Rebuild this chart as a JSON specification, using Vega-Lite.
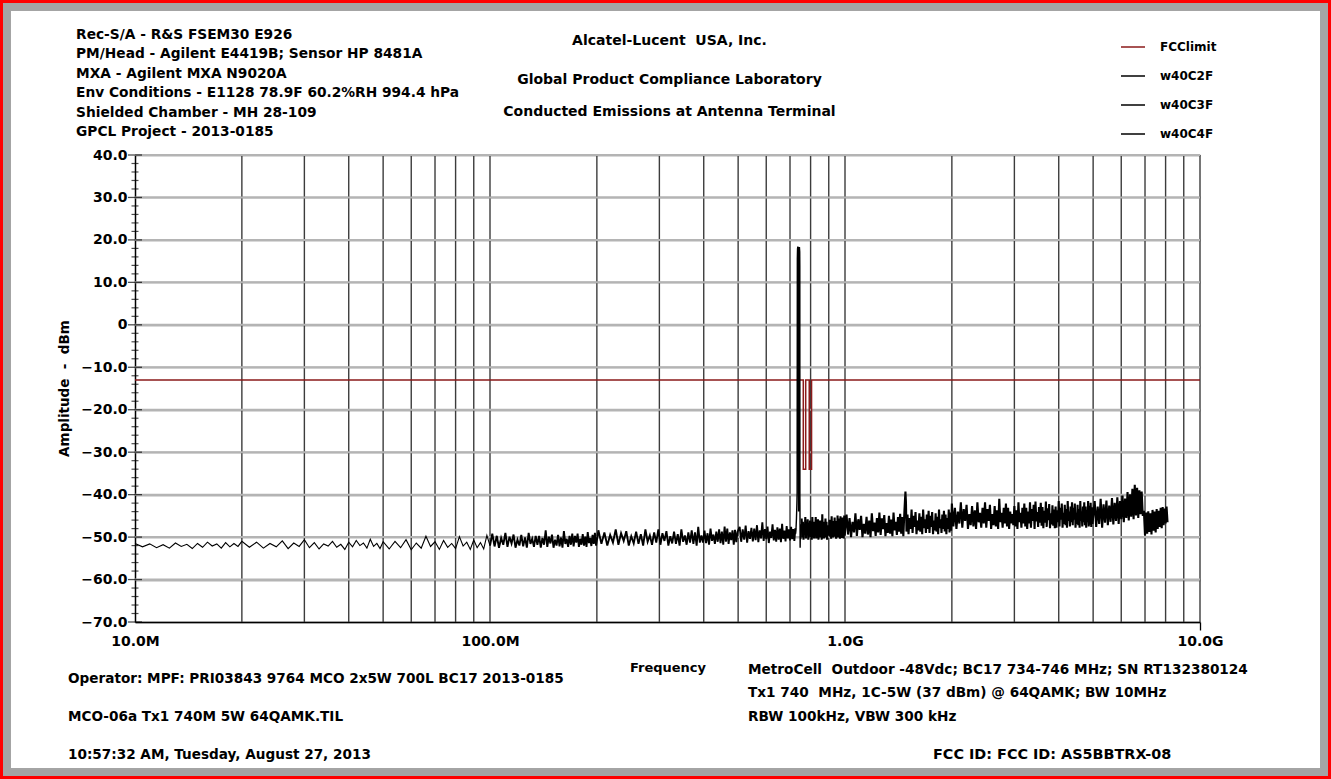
{
"$schema": "https://vega.github.io/schema/vega-lite/v6.json",
"width": 1317,
"height": 765,
"autosize": "none",
"padding": 7,
"background": "#ff0000",
"config": {"view": {"fill": "#ffffff", "stroke": "#a4a4a4", "strokeWidth": 8}, "font": "DejaVu Sans", "axis": {"labelOverlap": false}},
"datasets": {
"gridX": [{"f":20},{"f":30},{"f":40},{"f":50},{"f":60},{"f":70},{"f":80},{"f":90},{"f":100},{"f":200},{"f":300},{"f":400},{"f":500},{"f":600},{"f":700},{"f":800},{"f":900},{"f":1000},{"f":2000},{"f":3000},{"f":4000},{"f":5000},{"f":6000},{"f":7000},{"f":8000},{"f":9000},{"f":10000}],
"gridY": [{"g":-60,"f":10},{"g":-60,"f":10000},{"g":-50,"f":10},{"g":-50,"f":10000},{"g":-40,"f":10},{"g":-40,"f":10000},{"g":-30,"f":10},{"g":-30,"f":10000},{"g":-20,"f":10},{"g":-20,"f":10000},{"g":-10,"f":10},{"g":-10,"f":10000},{"g":0,"f":10},{"g":0,"f":10000},{"g":10,"f":10},{"g":10,"f":10000},{"g":20,"f":10},{"g":20,"f":10000},{"g":30,"f":10},{"g":30,"f":10000},{"g":40,"f":10},{"g":40,"f":10000}],
"yMajor": [{"a":-70},{"a":-60},{"a":-50},{"a":-40},{"a":-30},{"a":-20},{"a":-10},{"a":0},{"a":10},{"a":20},{"a":30},{"a":40}],
"yMinor": [{"a":-68},{"a":-66},{"a":-64},{"a":-62},{"a":-58},{"a":-56},{"a":-54},{"a":-52},{"a":-48},{"a":-46},{"a":-44},{"a":-42},{"a":-38},{"a":-36},{"a":-34},{"a":-32},{"a":-28},{"a":-26},{"a":-24},{"a":-22},{"a":-18},{"a":-16},{"a":-14},{"a":-12},{"a":-8},{"a":-6},{"a":-4},{"a":-2},{"a":2},{"a":4},{"a":6},{"a":8},{"a":12},{"a":14},{"a":16},{"a":18},{"a":22},{"a":24},{"a":26},{"a":28},{"a":32},{"a":34},{"a":36},{"a":38}],
"FCClimit": [{"i":1,"f":10,"a":-13},{"i":2,"f":763,"a":-13},{"i":3,"f":763,"a":-34},{"i":4,"f":775,"a":-34},{"i":5,"f":775,"a":-13},{"i":6,"f":793,"a":-13},{"i":7,"f":793,"a":-34},{"i":8,"f":805,"a":-34},{"i":9,"f":805,"a":-13},{"i":10,"f":10000,"a":-13}],
"w40C2F": [
{"f":10,"a":-51.5},{"f":10.5,"a":-52.3},{"f":11,"a":-51.6},{"f":11.5,"a":-52.5},{"f":12,"a":-51.8},{"f":12.5,"a":-52.6},{"f":13,"a":-51.4},{"f":13.5,"a":-52.2},{"f":14,"a":-51.7},{"f":14.5,"a":-52.7},{"f":15,"a":-51.5},{"f":15.5,"a":-52.4},{"f":16,"a":-51.2},{"f":16.5,"a":-52.1},{"f":17,"a":-51.6},{"f":17.5,"a":-52.6},{"f":18,"a":-51.3},{"f":18.5,"a":-52.3},{"f":19,"a":-51.5},{"f":19.5,"a":-52.2},{"f":20,"a":-51.0},
{"f":21,"a":-52.4},{"f":22,"a":-51.2},{"f":23,"a":-52.6},{"f":24,"a":-51.5},{"f":25,"a":-52.3},{"f":26,"a":-50.9},{"f":27,"a":-52.7},{"f":28,"a":-51.4},{"f":29,"a":-52.2},{"f":30,"a":-50.6},{"f":31,"a":-52.5},{"f":32,"a":-51.3},{"f":33,"a":-52.8},{"f":34,"a":-51.6},{"f":35,"a":-52.1},{"f":36,"a":-51.0},{"f":37,"a":-52.4},{"f":38,"a":-51.7},{"f":39,"a":-52.9},{"f":40,"a":-51.2},{"f":41,"a":-52.3},{"f":42,"a":-50.8},{"f":43,"a":-52.0},{"f":44,"a":-51.4},{"f":45,"a":-52.6},{"f":46,"a":-50.5},{"f":47,"a":-52.2},{"f":48,"a":-51.5},{"f":49,"a":-52.7},{"f":50,"a":-51.1},
{"f":52,"a":-52.8},{"f":54,"a":-51.0},{"f":56,"a":-52.5},{"f":58,"a":-50.6},{"f":60,"a":-53.0},{"f":62,"a":-51.4},{"f":64,"a":-52.6},{"f":66,"a":-49.8},{"f":68,"a":-52.2},{"f":70,"a":-51.1},{"f":72,"a":-52.9},{"f":74,"a":-50.8},{"f":76,"a":-52.4},{"f":78,"a":-51.5},{"f":80,"a":-52.7},{"f":82,"a":-49.9},{"f":84,"a":-52.1},{"f":86,"a":-51.2},{"f":88,"a":-52.9},{"f":90,"a":-50.7},{"f":92,"a":-52.5},{"f":94,"a":-51.3},{"f":96,"a":-52.8},{"f":98,"a":-49.6},{"f":100,"a":-52.0},
{"f":101.5,"a":-49.2},{"f":103,"a":-52.2},{"f":104.5,"a":-49.7},{"f":106,"a":-52.5},{"f":107.5,"a":-50.2},{"f":109,"a":-51.8},{"f":110.5,"a":-49.0},{"f":112,"a":-52.3},{"f":113.5,"a":-49.9},{"f":115,"a":-51.5},{"f":116.5,"a":-49.4},{"f":118,"a":-52.5},{"f":119.5,"a":-50.6},{"f":121,"a":-52.0},{"f":122.5,"a":-49.5},{"f":124,"a":-52.2},{"f":125.5,"a":-50.1},{"f":127,"a":-52.5},{"f":128.5,"a":-49.0},{"f":130,"a":-51.6},{"f":131.5,"a":-50.4},{"f":133,"a":-52.3},{"f":134.5,"a":-49.7},{"f":136,"a":-51.8},
{"f":137.5,"a":-49.7},{"f":139,"a":-52.5},{"f":140.5,"a":-50.2},{"f":142,"a":-51.8},{"f":143.5,"a":-48.4},{"f":145,"a":-52.3},{"f":146.5,"a":-49.9},{"f":148,"a":-51.5},{"f":149.5,"a":-49.4},{"f":151,"a":-52.5},{"f":152.5,"a":-50.6},{"f":154,"a":-52.0},{"f":155.5,"a":-49.5},{"f":157,"a":-52.2},{"f":158.5,"a":-50.1},{"f":160,"a":-52.5},{"f":161.5,"a":-48.6},{"f":163,"a":-51.6},{"f":164.5,"a":-50.4},{"f":166,"a":-52.3},{"f":167.5,"a":-49.7},{"f":169,"a":-51.8},{"f":170.5,"a":-49.2},{"f":172,"a":-52.2},
{"f":173.5,"a":-49.7},{"f":175,"a":-51.3},{"f":176.5,"a":-49.2},{"f":178,"a":-52.3},{"f":179.5,"a":-50.4},{"f":181,"a":-51.8},{"f":182.5,"a":-49.3},{"f":184,"a":-52.0},{"f":185.5,"a":-49.9},{"f":187,"a":-52.3},{"f":188.5,"a":-48.8},{"f":190,"a":-51.4},{"f":191.5,"a":-50.2},{"f":193,"a":-52.1},{"f":194.5,"a":-49.5},{"f":196,"a":-51.6},{"f":197.5,"a":-49.0},{"f":199,"a":-52.0},
{"f":202,"a":-48.4},{"f":206,"a":-51.6},{"f":210,"a":-48.9},{"f":214,"a":-52.0},{"f":218,"a":-49.5},{"f":222,"a":-51.3},{"f":226,"a":-48.2},{"f":230,"a":-51.8},{"f":234,"a":-49.1},{"f":238,"a":-50.9},{"f":242,"a":-48.6},{"f":246,"a":-52.0},{"f":250,"a":-49.8},{"f":254,"a":-51.5},{"f":258,"a":-48.7},{"f":262,"a":-51.6},{"f":266,"a":-49.3},{"f":270,"a":-52.0},{"f":274,"a":-48.2},{"f":278,"a":-51.1},{"f":282,"a":-49.6},{"f":286,"a":-51.8},{"f":290,"a":-48.9},{"f":294,"a":-51.3},
{"f":298,"a":-48.2},{"f":302,"a":-51.8},{"f":306,"a":-49.1},{"f":310,"a":-50.9},{"f":314,"a":-48.6},{"f":318,"a":-52.0},{"f":322,"a":-49.8},{"f":326,"a":-51.5},{"f":330,"a":-48.7},{"f":334,"a":-51.6},{"f":338,"a":-49.3},{"f":342,"a":-52.0},{"f":346,"a":-48.2},{"f":350,"a":-51.1},{"f":354,"a":-49.6},{"f":358,"a":-51.8},{"f":362,"a":-48.9},{"f":366,"a":-51.3},{"f":370,"a":-48.4},{"f":374,"a":-51.6},{"f":378,"a":-48.9},{"f":382,"a":-52.0},{"f":386,"a":-47.6},{"f":390,"a":-51.3},
{"f":394,"a":-49.6},{"f":398,"a":-51.3},{"f":402,"a":-48.5},{"f":406,"a":-51.4},{"f":410,"a":-49.1},{"f":414,"a":-51.8},{"f":418,"a":-48.0},{"f":422,"a":-50.9},{"f":426,"a":-49.4},{"f":430,"a":-51.6},{"f":434,"a":-48.7},{"f":438,"a":-51.1},{"f":442,"a":-48.2},{"f":446,"a":-51.4},{"f":450,"a":-48.7},{"f":454,"a":-51.8},{"f":458,"a":-47.5},{"f":462,"a":-51.1},{"f":466,"a":-48.0},{"f":470,"a":-51.6},{"f":474,"a":-48.9},{"f":478,"a":-50.7},{"f":482,"a":-48.4},{"f":486,"a":-51.8},{"f":490,"a":-48.3},{"f":494,"a":-51.2},{"f":498,"a":-48.8},
{"f":505,"a":-47.6},{"f":510,"a":-51.1},{"f":515,"a":-48.2},{"f":520,"a":-50.6},{"f":525,"a":-47.3},{"f":530,"a":-51.3},{"f":535,"a":-48.6},{"f":540,"a":-50.4},{"f":545,"a":-47.8},{"f":550,"a":-51.0},{"f":555,"a":-48.0},{"f":560,"a":-50.7},{"f":565,"a":-47.2},{"f":570,"a":-51.2},{"f":575,"a":-48.4},{"f":580,"a":-50.3},{"f":585,"a":-46.5},{"f":590,"a":-50.9},{"f":595,"a":-48.1},{"f":600,"a":-50.5},{"f":605,"a":-47.5},{"f":610,"a":-51.4},{"f":615,"a":-48.7},{"f":620,"a":-50.2},{"f":625,"a":-47.0},{"f":630,"a":-50.8},{"f":635,"a":-48.3},{"f":640,"a":-51.1},{"f":645,"a":-47.7},{"f":650,"a":-50.6},{"f":655,"a":-48.0},{"f":660,"a":-51.2},{"f":665,"a":-46.9},{"f":670,"a":-50.4},{"f":675,"a":-48.5},{"f":680,"a":-51.0},{"f":685,"a":-47.4},{"f":690,"a":-50.3},{"f":695,"a":-48.2},{"f":700,"a":-50.8},{"f":705,"a":-47.6},{"f":710,"a":-50.5},{"f":715,"a":-48.1},{"f":720,"a":-50.9},{"f":725,"a":-47.9}
],
"w40C3F": [
{"f":726,"a":-49.2},{"f":728,"a":-47.8},{"f":730,"a":-45.5},{"f":732,"a":-42.0},{"f":733,"a":-39.5},{"f":734,"a":15.5},{"f":735,"a":17.9},{"f":736.5,"a":18.4},{"f":738,"a":17.8},{"f":739,"a":18.1},{"f":740,"a":-44.0},{"f":741,"a":18.0},{"f":742,"a":17.6},{"f":744,"a":18.3},{"f":745.5,"a":17.2},{"f":746,"a":14.0},{"f":746.5,"a":-41.0},{"f":747.5,"a":-52.5},{"f":749,"a":-47.0},{"f":751,"a":-50.5},{"f":753,"a":-48.0}
],
"w40C4F": [
{"f":755,"a":-45.6},{"f":758,"a":-50.1},{"f":761,"a":-46.4},{"f":764,"a":-50.6},{"f":767,"a":-47.2},{"f":770,"a":-49.5},{"f":773,"a":-45.3},{"f":776,"a":-50.3},{"f":779,"a":-46.6},{"f":782,"a":-49.0},{"f":785,"a":-45.8},{"f":788,"a":-50.6},{"f":791,"a":-47.7},{"f":794,"a":-49.8},{"f":797,"a":-46.1},{"f":800,"a":-50.1},{"f":803,"a":-46.9},{"f":806,"a":-50.6},{"f":809,"a":-45.3},{"f":812,"a":-49.3},{"f":815,"a":-47.4},{"f":818,"a":-50.3},{"f":821,"a":-46.4},{"f":824,"a":-49.5},
{"f":827,"a":-45.3},{"f":830,"a":-50.3},{"f":833,"a":-46.6},{"f":836,"a":-49.0},{"f":839,"a":-45.8},{"f":842,"a":-50.6},{"f":845,"a":-47.7},{"f":848,"a":-49.8},{"f":851,"a":-46.1},{"f":854,"a":-50.1},{"f":857,"a":-46.9},{"f":860,"a":-50.6},{"f":863,"a":-44.6},{"f":866,"a":-49.3},{"f":869,"a":-47.4},{"f":872,"a":-50.3},{"f":875,"a":-46.4},{"f":878,"a":-49.5},{"f":881,"a":-45.6},{"f":884,"a":-50.1},{"f":887,"a":-46.4},{"f":890,"a":-50.6},{"f":893,"a":-47.2},{"f":896,"a":-49.5},
{"f":899,"a":-47.5},{"f":902,"a":-49.6},{"f":905,"a":-45.9},{"f":908,"a":-49.9},{"f":911,"a":-46.7},{"f":914,"a":-50.4},{"f":917,"a":-45.1},{"f":920,"a":-49.1},{"f":923,"a":-47.2},{"f":926,"a":-50.1},{"f":929,"a":-46.2},{"f":932,"a":-49.3},{"f":935,"a":-45.4},{"f":938,"a":-49.9},{"f":941,"a":-46.2},{"f":944,"a":-50.4},{"f":947,"a":-47.0},{"f":950,"a":-49.3},{"f":953,"a":-44.9},{"f":956,"a":-50.1},{"f":959,"a":-46.4},{"f":962,"a":-48.8},{"f":965,"a":-45.6},{"f":968,"a":-50.4},
{"f":971,"a":-45.1},{"f":974,"a":-49.9},{"f":977,"a":-46.3},{"f":980,"a":-50.2},{"f":983,"a":-45.4},{"f":986,"a":-49.2},{"f":989,"a":-46.8},{"f":992,"a":-50.3},{"f":995,"a":-44.9},{"f":998,"a":-49.6},
{"f":1010,"a":-44.7},{"f":1020,"a":-49.4},{"f":1030,"a":-45.5},{"f":1040,"a":-50.0},{"f":1050,"a":-46.4},{"f":1060,"a":-48.9},{"f":1070,"a":-44.4},{"f":1080,"a":-49.7},{"f":1090,"a":-45.8},{"f":1100,"a":-48.3},{"f":1110,"a":-45.0},{"f":1120,"a":-50.0},{"f":1130,"a":-46.9},{"f":1140,"a":-49.2},{"f":1150,"a":-45.2},{"f":1160,"a":-49.4},{"f":1170,"a":-46.1},{"f":1180,"a":-50.0},{"f":1190,"a":-44.4},{"f":1200,"a":-48.6},{"f":1210,"a":-46.6},{"f":1220,"a":-49.7},{"f":1230,"a":-45.5},{"f":1240,"a":-48.9},
{"f":1250,"a":-44.2},{"f":1260,"a":-49.5},{"f":1270,"a":-45.6},{"f":1280,"a":-48.1},{"f":1290,"a":-44.8},{"f":1300,"a":-49.8},{"f":1310,"a":-46.7},{"f":1320,"a":-49.0},{"f":1330,"a":-45.0},{"f":1340,"a":-49.2},{"f":1350,"a":-45.9},{"f":1360,"a":-49.8},{"f":1370,"a":-44.2},{"f":1380,"a":-48.4},{"f":1390,"a":-46.4},{"f":1400,"a":-49.5},{"f":1410,"a":-45.3},{"f":1420,"a":-48.7},{"f":1430,"a":-44.5},{"f":1440,"a":-49.2},{"f":1450,"a":-45.3},{"f":1460,"a":-49.8},{"f":1470,"a":-44.0},
{"f":1475,"a":-41.5},{"f":1480,"a":-39.3},{"f":1485,"a":-41.8},
{"f":1490,"a":-48.7},{"f":1500,"a":-44.7},{"f":1510,"a":-49.3},{"f":1520,"a":-45.5},{"f":1530,"a":-48.1},{"f":1540,"a":-43.5},{"f":1550,"a":-49.0},{"f":1560,"a":-45.0},{"f":1570,"a":-47.6},{"f":1580,"a":-44.1},{"f":1590,"a":-49.3},{"f":1600,"a":-46.1},{"f":1610,"a":-48.4},{"f":1620,"a":-44.4},{"f":1630,"a":-48.7},{"f":1640,"a":-45.2},{"f":1650,"a":-49.3},{"f":1660,"a":-43.5},{"f":1670,"a":-47.9},{"f":1680,"a":-45.8},{"f":1690,"a":-49.0},{"f":1700,"a":-44.7},{"f":1710,"a":-48.1},{"f":1720,"a":-43.8},
{"f":1730,"a":-49.0},{"f":1740,"a":-45.0},{"f":1750,"a":-47.6},{"f":1760,"a":-44.1},{"f":1770,"a":-49.3},{"f":1780,"a":-46.1},{"f":1790,"a":-48.4},{"f":1800,"a":-44.4},{"f":1810,"a":-48.7},{"f":1820,"a":-45.2},{"f":1830,"a":-49.3},{"f":1840,"a":-43.5},{"f":1850,"a":-47.9},{"f":1860,"a":-45.8},{"f":1870,"a":-49.0},{"f":1880,"a":-44.7},{"f":1890,"a":-48.1},{"f":1900,"a":-43.8},{"f":1910,"a":-48.7},{"f":1920,"a":-44.7},{"f":1930,"a":-49.3},{"f":1940,"a":-45.5},{"f":1950,"a":-48.1},{"f":1960,"a":-43.5},{"f":1970,"a":-48.9},{"f":1980,"a":-44.2},{"f":1990,"a":-48.5},
{"f":2000,"a":-42.1},{"f":2020,"a":-47.5},{"f":2040,"a":-43.1},{"f":2060,"a":-48.1},{"f":2080,"a":-44.0},{"f":2100,"a":-46.8},{"f":2120,"a":-41.8},{"f":2140,"a":-47.8},{"f":2160,"a":-43.4},{"f":2180,"a":-46.2},{"f":2200,"a":-42.4},{"f":2220,"a":-48.1},{"f":2240,"a":-44.6},{"f":2260,"a":-47.2},{"f":2280,"a":-42.7},{"f":2300,"a":-47.5},{"f":2320,"a":-43.7},{"f":2340,"a":-48.1},{"f":2360,"a":-41.8},{"f":2380,"a":-46.5},{"f":2400,"a":-44.3},{"f":2420,"a":-47.8},{"f":2440,"a":-43.1},{"f":2460,"a":-46.8},
{"f":2480,"a":-41.8},{"f":2500,"a":-47.8},{"f":2520,"a":-43.4},{"f":2540,"a":-46.2},{"f":2560,"a":-42.4},{"f":2580,"a":-48.1},{"f":2600,"a":-44.6},{"f":2620,"a":-47.2},{"f":2640,"a":-42.7},{"f":2660,"a":-47.5},{"f":2680,"a":-43.7},{"f":2700,"a":-48.1},{"f":2720,"a":-41.0},{"f":2740,"a":-46.5},{"f":2760,"a":-44.3},{"f":2780,"a":-47.8},{"f":2800,"a":-43.1},{"f":2820,"a":-46.8},{"f":2840,"a":-42.1},{"f":2860,"a":-47.5},{"f":2880,"a":-43.1},{"f":2900,"a":-48.1},{"f":2920,"a":-44.0},{"f":2940,"a":-46.8},
{"f":2960,"a":-44.6},{"f":2980,"a":-47.2},{"f":3000,"a":-42.7},{"f":3020,"a":-47.5},{"f":3040,"a":-43.7},{"f":3060,"a":-48.1},{"f":3080,"a":-41.8},{"f":3100,"a":-46.5},{"f":3120,"a":-44.3},{"f":3140,"a":-47.8},{"f":3160,"a":-43.1},{"f":3180,"a":-46.8},{"f":3200,"a":-42.1},{"f":3220,"a":-47.5},{"f":3240,"a":-43.1},{"f":3260,"a":-48.1},{"f":3280,"a":-44.0},{"f":3300,"a":-46.8},{"f":3320,"a":-41.8},{"f":3340,"a":-47.8},{"f":3360,"a":-43.4},{"f":3380,"a":-46.2},{"f":3400,"a":-42.4},{"f":3420,"a":-48.1},
{"f":3440,"a":-41.6},{"f":3460,"a":-46.3},{"f":3480,"a":-44.1},{"f":3500,"a":-47.6},{"f":3520,"a":-42.9},{"f":3540,"a":-46.6},{"f":3560,"a":-41.9},{"f":3580,"a":-47.3},{"f":3600,"a":-42.9},{"f":3620,"a":-47.9},{"f":3640,"a":-43.8},{"f":3660,"a":-46.6},{"f":3680,"a":-41.6},{"f":3700,"a":-47.6},{"f":3720,"a":-43.2},{"f":3740,"a":-46.0},{"f":3760,"a":-42.2},{"f":3780,"a":-47.9},{"f":3800,"a":-44.4},{"f":3820,"a":-47.0},{"f":3840,"a":-42.5},{"f":3860,"a":-47.3},{"f":3880,"a":-43.5},{"f":3900,"a":-47.9},
{"f":3920,"a":-42.8},{"f":3940,"a":-47.8},{"f":3960,"a":-43.7},{"f":3980,"a":-46.5},{"f":4000,"a":-41.5},{"f":4020,"a":-47.5},{"f":4040,"a":-43.1},{"f":4060,"a":-45.9},{"f":4080,"a":-42.1},{"f":4100,"a":-47.8},{"f":4120,"a":-44.3},{"f":4140,"a":-46.9},{"f":4160,"a":-42.4},{"f":4180,"a":-47.2},{"f":4200,"a":-43.4},{"f":4220,"a":-47.8},{"f":4240,"a":-41.5},{"f":4260,"a":-46.2},{"f":4280,"a":-44.0},{"f":4300,"a":-47.5},{"f":4320,"a":-42.8},{"f":4340,"a":-46.5},{"f":4360,"a":-41.8},{"f":4380,"a":-47.2},
{"f":4400,"a":-43.1},{"f":4420,"a":-45.9},{"f":4440,"a":-42.1},{"f":4460,"a":-47.8},{"f":4480,"a":-44.3},{"f":4500,"a":-46.9},{"f":4520,"a":-42.4},{"f":4540,"a":-47.2},{"f":4560,"a":-43.4},{"f":4580,"a":-47.8},{"f":4600,"a":-41.5},{"f":4620,"a":-46.2},{"f":4640,"a":-44.0},{"f":4660,"a":-47.5},{"f":4680,"a":-42.8},{"f":4700,"a":-46.5},{"f":4720,"a":-41.8},{"f":4740,"a":-47.2},{"f":4760,"a":-42.8},{"f":4780,"a":-47.8},{"f":4800,"a":-43.7},{"f":4820,"a":-46.5},{"f":4840,"a":-41.5},{"f":4860,"a":-47.5},
{"f":4880,"a":-42.6},{"f":4900,"a":-47.1},{"f":4920,"a":-41.9},{"f":4940,"a":-47.6},{"f":4960,"a":-43.0},{"f":4980,"a":-46.9},
{"f":5050,"a":-41.5},{"f":5100,"a":-47.6},{"f":5150,"a":-42.8},{"f":5200,"a":-46.9},{"f":5250,"a":-41.0},{"f":5300,"a":-47.8},{"f":5350,"a":-42.3},{"f":5400,"a":-46.6},{"f":5450,"a":-41.4},{"f":5500,"a":-47.2},{"f":5550,"a":-42.6},{"f":5600,"a":-46.4},{"f":5650,"a":-40.8},{"f":5700,"a":-47.0},{"f":5750,"a":-41.9},{"f":5800,"a":-46.2},{"f":5850,"a":-40.6},{"f":5900,"a":-46.9},{"f":5950,"a":-41.5},{"f":6000,"a":-45.8},{"f":6050,"a":-40.2},{"f":6100,"a":-46.5},{"f":6150,"a":-40.9},{"f":6200,"a":-45.5},{"f":6250,"a":-39.4},{"f":6300,"a":-46.1},{"f":6350,"a":-39.9},{"f":6400,"a":-45.2},{"f":6450,"a":-38.6},{"f":6500,"a":-45.8},{"f":6550,"a":-37.7},{"f":6600,"a":-44.9},{"f":6650,"a":-38.4},{"f":6700,"a":-45.5},{"f":6750,"a":-39.0},{"f":6800,"a":-44.6},{"f":6850,"a":-39.3},{"f":6900,"a":-45.0},{"f":6950,"a":-43.8},{"f":7000,"a":-49.6},{"f":7050,"a":-44.2},{"f":7100,"a":-49.2},{"f":7150,"a":-43.9},{"f":7200,"a":-48.8},{"f":7250,"a":-44.4},{"f":7300,"a":-49.4},{"f":7350,"a":-43.6},{"f":7400,"a":-48.5},{"f":7450,"a":-44.0},{"f":7500,"a":-48.9},{"f":7550,"a":-43.4},{"f":7600,"a":-48.1},{"f":7650,"a":-43.8},{"f":7700,"a":-47.6},{"f":7750,"a":-43.1},{"f":7800,"a":-47.9},{"f":7850,"a":-42.9},{"f":7900,"a":-47.2},{"f":7950,"a":-43.3},{"f":8000,"a":-46.8},{"f":8050,"a":-42.8},{"f":8100,"a":-46.5}
]
},
"layer": [
{"data": {"name": "gridX"}, "mark": {"type": "rule", "color": "#3c3c3c", "strokeWidth": 1.4},
 "encoding": {
  "x": {"field": "f", "type": "quantitative", "title": "Frequency", "scale": {"type": "log", "domain": [10, 10000], "range": [128, 1193], "nice": false}},
  "y": {"datum": -70, "type": "quantitative", "title": "Amplitude\u00a0 - \u00a0dBm", "scale": {"domain": [-70, 40], "range": [615, 148], "nice": false, "zero": false}},
  "y2": {"datum": 40}}},
{"data": {"name": "gridY"}, "mark": {"type": "line", "stroke": "#b4b4b4", "color": "#b4b4b4", "strokeWidth": 2, "opacity": 1},
 "encoding": {
  "x": {"field": "f", "type": "quantitative", "title": "Frequency", "scale": {"type": "log", "domain": [10, 10000], "range": [128, 1193], "nice": false}},
  "y": {"field": "g", "type": "quantitative", "title": "Amplitude\u00a0 - \u00a0dBm", "scale": {"domain": [-70, 40], "range": [615, 148], "nice": false, "zero": false}},
  "detail": {"field": "g", "type": "nominal"}}},
{"data": {"name": "yMajor"}, "mark": {"type": "tick", "orient": "horizontal", "size": 14, "thickness": 1.3, "color": "#000000"},
 "encoding": {
  "x": {"datum": 10, "type": "quantitative", "title": "Frequency", "scale": {"type": "log", "domain": [10, 10000], "range": [128, 1193], "nice": false}},
  "y": {"field": "a", "type": "quantitative", "title": "Amplitude\u00a0 - \u00a0dBm", "scale": {"domain": [-70, 40], "range": [615, 148], "nice": false, "zero": false}}}},
{"data": {"name": "yMinor"}, "mark": {"type": "tick", "orient": "horizontal", "size": 7, "thickness": 1.2, "color": "#000000"},
 "encoding": {
  "x": {"datum": 10, "type": "quantitative", "title": "Frequency", "scale": {"type": "log", "domain": [10, 10000], "range": [128, 1193], "nice": false}},
  "y": {"field": "a", "type": "quantitative", "title": "Amplitude\u00a0 - \u00a0dBm", "scale": {"domain": [-70, 40], "range": [615, 148], "nice": false, "zero": false}}}},
{"data": {"name": "FCClimit"}, "mark": {"type": "line", "strokeWidth": 1.5},
 "encoding": {
  "x": {"field": "f", "type": "quantitative", "title": "Frequency", "scale": {"type": "log", "domain": [10, 10000], "range": [128, 1193], "nice": false},
   "axis": {"title": "Frequency", "offset": -150, "values": [10, 100, 1000, 10000],
    "labelExpr": "datum.value == 10 ? '10.0M' : datum.value == 100 ? '100.0M' : datum.value == 1000 ? '1.0G' : '10.0G'",
    "labelFont": "DejaVu Sans", "labelFontWeight": "bold", "labelFontSize": 14, "labelColor": "#000000", "labelPadding": 4, "labelFlush": false, "labelOverlap": false, "labelBaseline": "top",
    "tickSize": 8, "tickColor": "#000000", "tickWidth": 1.3, "tickOpacity": {"condition": {"test": "datum.value == 10000", "value": 1}, "value": 0},
    "domainColor": "#000000", "domainWidth": 1.5, "grid": false,
    "titleFont": "DejaVu Sans", "titleFontWeight": "bold", "titleFontSize": 13, "titleColor": "#000000", "titleY": 49, "titleBaseline": "alphabetic"}},
  "y": {"field": "a", "type": "quantitative", "title": "Amplitude\u00a0 - \u00a0dBm", "scale": {"domain": [-70, 40], "range": [615, 148], "nice": false, "zero": false},
   "axis": {"title": "Amplitude\u00a0 - \u00a0dBm", "offset": -128,
    "values": [-70,-60,-50,-40,-30,-20,-10,0,10,20,30,40],
    "labelExpr": "datum.value == 0 ? '0' : format(datum.value, '.1f')",
    "labelFont": "DejaVu Sans", "labelFontWeight": "bold", "labelFontSize": 14, "labelColor": "#000000", "labelPadding": 8, "labelFlush": false, "labelOverlap": false,
    "ticks": false,
    "domainColor": "#000000", "domainWidth": 1.5,
    "grid": true, "gridColor": "#b4b4b4", "gridWidth": 2, "gridOpacity": 1,
    "titleFont": "DejaVu Sans", "titleFontWeight": "bold", "titleFontSize": 13.5, "titleColor": "#000000",
    "titleX": -71, "titleY": 381, "titleAngle": 270, "titleAlign": "center", "titleBaseline": "middle"}},
  "order": {"field": "i", "type": "quantitative"},
  "color": {"datum": "FCClimit", "type": "nominal",
   "scale": {"domain": ["FCClimit", "w40C2F", "w40C3F", "w40C4F"], "range": ["#8b1a1a", "#000000", "#000000", "#000000"]},
   "legend": {"title": null, "orient": "none", "direction": "vertical", "legendX": 1113, "legendY": 27, "symbolType": "stroke", "symbolSize": 576, "symbolStrokeWidth": 1.5, "labelFont": "DejaVu Sans", "labelFontWeight": "bold", "labelFontSize": 12, "labelColor": "#000000", "labelOffset": 14, "rowPadding": 10}}}},
{"data": {"name": "w40C2F"}, "transform": [{"filter": "datum.f <= 100"}], "mark": {"type": "line", "strokeWidth": 1.1},
 "encoding": {
  "x": {"field": "f", "type": "quantitative", "title": "Frequency", "scale": {"type": "log", "domain": [10, 10000], "range": [128, 1193], "nice": false}},
  "y": {"field": "a", "type": "quantitative", "title": "Amplitude\u00a0 - \u00a0dBm", "scale": {"domain": [-70, 40], "range": [615, 148], "nice": false, "zero": false}},
  "color": {"datum": "w40C2F", "type": "nominal"}}},
{"data": {"name": "w40C2F"}, "transform": [{"filter": "datum.f >= 100"}], "mark": {"type": "line", "strokeWidth": 1.9},
 "encoding": {
  "x": {"field": "f", "type": "quantitative", "title": "Frequency", "scale": {"type": "log", "domain": [10, 10000], "range": [128, 1193], "nice": false}},
  "y": {"field": "a", "type": "quantitative", "title": "Amplitude\u00a0 - \u00a0dBm", "scale": {"domain": [-70, 40], "range": [615, 148], "nice": false, "zero": false}},
  "color": {"datum": "w40C2F", "type": "nominal"}}},
{"data": {"name": "w40C3F"}, "mark": {"type": "line", "strokeWidth": 1.4},
 "encoding": {
  "x": {"field": "f", "type": "quantitative", "title": "Frequency", "scale": {"type": "log", "domain": [10, 10000], "range": [128, 1193], "nice": false}},
  "y": {"field": "a", "type": "quantitative", "title": "Amplitude\u00a0 - \u00a0dBm", "scale": {"domain": [-70, 40], "range": [615, 148], "nice": false, "zero": false}},
  "color": {"datum": "w40C3F", "type": "nominal"}}},
{"data": {"name": "w40C4F"}, "mark": {"type": "line", "strokeWidth": 2.1},
 "encoding": {
  "x": {"field": "f", "type": "quantitative", "title": "Frequency", "scale": {"type": "log", "domain": [10, 10000], "range": [128, 1193], "nice": false}},
  "y": {"field": "a", "type": "quantitative", "title": "Amplitude\u00a0 - \u00a0dBm", "scale": {"domain": [-70, 40], "range": [615, 148], "nice": false, "zero": false}},
  "color": {"datum": "w40C4F", "type": "nominal"}}},
{"data": {"values": [{}]},
 "mark": {"type": "text", "align": "left", "baseline": "alphabetic", "fontSize": 13.75, "fontWeight": "bold", "font": "DejaVu Sans", "color": "#000000", "lineHeight": 19.4,
  "text": ["Rec-S/A - R&S FSEM30 E926", "PM/Head - Agilent E4419B; Sensor HP 8481A", "MXA - Agilent MXA N9020A", "Env Conditions - E1128 78.9F 60.2%RH 994.4 hPa", "Shielded Chamber - MH 28-109", "GPCL Project - 2013-0185"]},
 "encoding": {"x": {"datum": 6.822, "type": "quantitative", "title": "Frequency", "scale": {"type": "log", "domain": [10, 10000], "range": [128, 1193], "nice": false}},
  "y": {"datum": 67.32, "type": "quantitative", "title": "Amplitude\u00a0 - \u00a0dBm", "scale": {"domain": [-70, 40], "range": [615, 148], "nice": false, "zero": false}}}},
{"data": {"values": [{}]},
 "mark": {"type": "text", "align": "center", "baseline": "middle", "fontSize": 14, "fontWeight": "bold", "font": "DejaVu Sans", "color": "#000000", "text": "Alcatel-Lucent\u00a0 USA, Inc."},
 "encoding": {"x": {"datum": 320.3, "type": "quantitative", "title": "Frequency", "scale": {"type": "log", "domain": [10, 10000], "range": [128, 1193], "nice": false}},
  "y": {"datum": 66.85, "type": "quantitative", "title": "Amplitude\u00a0 - \u00a0dBm", "scale": {"domain": [-70, 40], "range": [615, 148], "nice": false, "zero": false}}}},
{"data": {"values": [{}]},
 "mark": {"type": "text", "align": "center", "baseline": "middle", "fontSize": 14, "fontWeight": "bold", "font": "DejaVu Sans", "color": "#000000", "text": "Global Product Compliance Laboratory"},
 "encoding": {"x": {"datum": 320.3, "type": "quantitative", "title": "Frequency", "scale": {"type": "log", "domain": [10, 10000], "range": [128, 1193], "nice": false}},
  "y": {"datum": 57.67, "type": "quantitative", "title": "Amplitude\u00a0 - \u00a0dBm", "scale": {"domain": [-70, 40], "range": [615, 148], "nice": false, "zero": false}}}},
{"data": {"values": [{}]},
 "mark": {"type": "text", "align": "center", "baseline": "middle", "fontSize": 14, "fontWeight": "bold", "font": "DejaVu Sans", "color": "#000000", "text": "Conducted Emissions at Antenna Terminal"},
 "encoding": {"x": {"datum": 320.3, "type": "quantitative", "title": "Frequency", "scale": {"type": "log", "domain": [10, 10000], "range": [128, 1193], "nice": false}},
  "y": {"datum": 50.13, "type": "quantitative", "title": "Amplitude\u00a0 - \u00a0dBm", "scale": {"domain": [-70, 40], "range": [615, 148], "nice": false, "zero": false}}}},
{"data": {"values": [{}]},
 "mark": {"type": "text", "align": "left", "baseline": "alphabetic", "fontSize": 13.6, "fontWeight": "bold", "font": "DejaVu Sans", "color": "#000000", "lineHeight": 38,
  "text": ["Operator: MPF: PRI03843 9764 MCO 2x5W 700L BC17 2013-0185", "MCO-06a Tx1 740M 5W 64QAMK.TIL", "10:57:32 AM, Tuesday, August 27, 2013"]},
 "encoding": {"x": {"datum": 6.476, "type": "quantitative", "title": "Frequency", "scale": {"type": "log", "domain": [10, 10000], "range": [128, 1193], "nice": false}},
  "y": {"datum": -84.37, "type": "quantitative", "title": "Amplitude\u00a0 - \u00a0dBm", "scale": {"domain": [-70, 40], "range": [615, 148], "nice": false, "zero": false}}}},
{"data": {"values": [{}]},
 "mark": {"type": "text", "align": "left", "baseline": "alphabetic", "fontSize": 13.65, "fontWeight": "bold", "font": "DejaVu Sans", "color": "#000000", "lineHeight": 23.4,
  "text": ["MetroCell\u00a0 Outdoor -48Vdc; BC17 734-746 MHz; SN RT132380124", "Tx1 740\u00a0 MHz, 1C-5W (37 dBm) @ 64QAMK; BW 10MHz", "RBW 100kHz, VBW 300 kHz"]},
 "encoding": {"x": {"datum": 533.0, "type": "quantitative", "title": "Frequency", "scale": {"type": "log", "domain": [10, 10000], "range": [128, 1193], "nice": false}},
  "y": {"datum": -82.25, "type": "quantitative", "title": "Amplitude\u00a0 - \u00a0dBm", "scale": {"domain": [-70, 40], "range": [615, 148], "nice": false, "zero": false}}}},
{"data": {"values": [{}]},
 "mark": {"type": "text", "align": "left", "baseline": "alphabetic", "fontSize": 14.4, "fontWeight": "bold", "font": "DejaVu Sans", "color": "#000000", "text": "FCC ID: FCC ID: AS5BBTRX-08"},
 "encoding": {"x": {"datum": 1769.9, "type": "quantitative", "title": "Frequency", "scale": {"type": "log", "domain": [10, 10000], "range": [128, 1193], "nice": false}},
  "y": {"datum": -102.27, "type": "quantitative", "title": "Amplitude\u00a0 - \u00a0dBm", "scale": {"domain": [-70, 40], "range": [615, 148], "nice": false, "zero": false}}}}
]
}
